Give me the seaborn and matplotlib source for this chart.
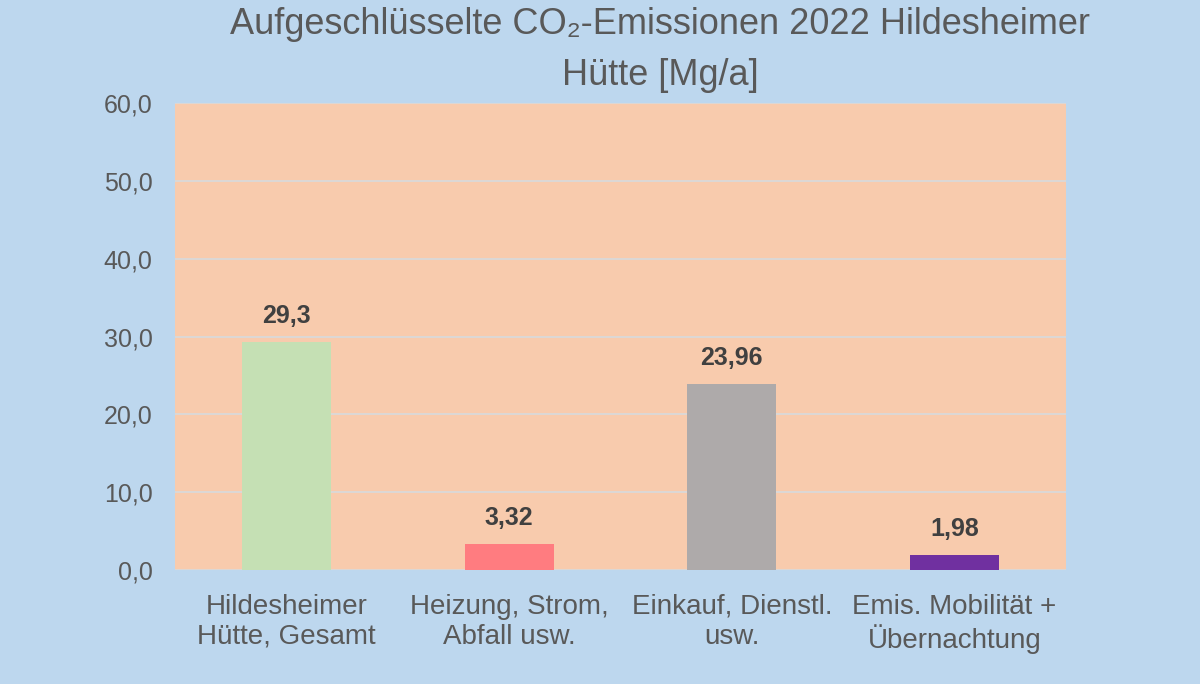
import matplotlib
matplotlib.use("Agg")
import matplotlib.pyplot as plt
import seaborn as sns
import pandas as pd
from matplotlib.ticker import FuncFormatter

categories = ["Hildesheimer\nHütte, Gesamt", "Heizung, Strom,\nAbfall usw.",
              "Einkauf, Dienstl.\nusw.", "Emis. Mobilität +\nÜbernachtung"]
values = [29.3, 3.32, 23.96, 1.98]
value_labels = ["29,3", "3,32", "23,96", "1,98"]
colors = ["#C5E0B4", "#FF7C80", "#AEAAAA", "#7030A0"]
yticks = [0, 10, 20, 30, 40, 50, 60]

sns.set_theme(style="white")
plt.rcParams['font.family'] = ['Liberation Sans', 'DejaVu Sans']

df = pd.DataFrame({"cat": categories, "val": values})

fig = plt.figure(figsize=(12, 6.84), dpi=100, facecolor="#BDD7EE")
ax = fig.add_axes([0.1458, 0.1667, 0.7425, 0.682])
ax.set_facecolor("#F8CBAD")

sns.barplot(data=df, x="cat", y="val", hue="cat", palette=colors,
            width=0.4, legend=False, ax=ax, saturation=1, linewidth=0,
            edgecolor="none")

ax.set_ylim(0, 60)
ax.set_yticks(yticks)
ax.yaxis.set_major_formatter(FuncFormatter(lambda v, p: f"{v:.1f}".replace(".", ",")))
ax.grid(axis="y", color="#D9D9D9", linewidth=1.3)
ax.set_axisbelow(True)
for s in ax.spines.values():
    s.set_visible(False)
ax.tick_params(axis="y", length=0, pad=16, labelsize=18, labelcolor="#595959")
ax.tick_params(axis="x", length=0, pad=17, labelsize=20, labelcolor="#595959")
ax.set_xlabel("")
ax.set_ylabel("")

for cont in ax.containers:
    ax.bar_label(cont, labels=[value_labels[int(round(b.get_x() + b.get_width() / 2))] for b in cont],
                 padding=10, fontsize=18, fontweight="bold", color="#404040")

fig.text(0.55, 0.99, "Aufgeschlüsselte CO₂-Emissionen 2022 Hildesheimer\nHütte [Mg/a]",
         ha="center", va="top", fontsize=26, color="#595959", linespacing=1.6)

fig.savefig("out.png", dpi=100, facecolor=fig.get_facecolor())
